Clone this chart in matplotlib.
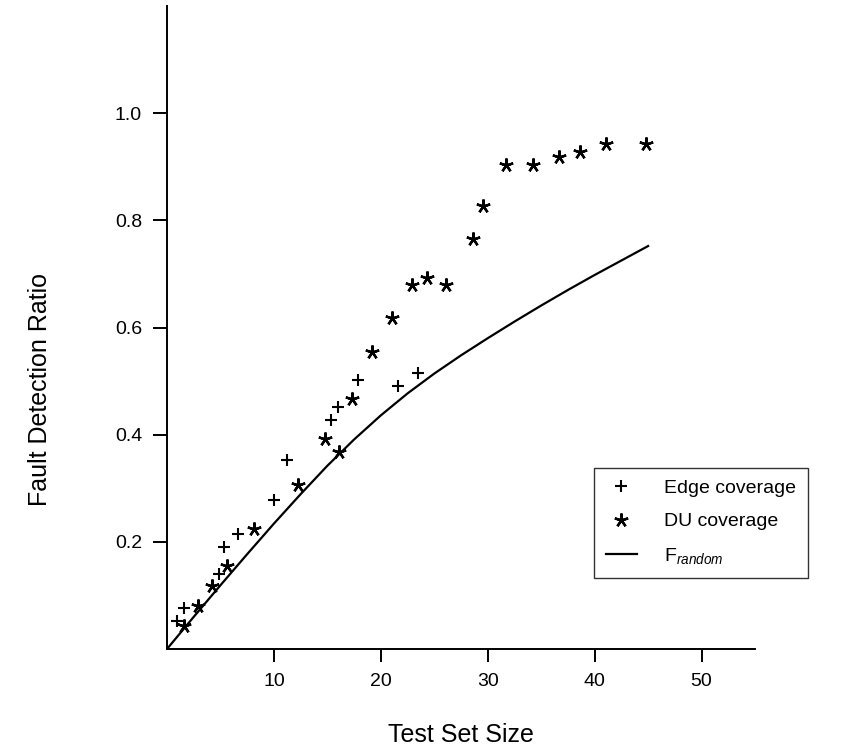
import numpy as np
import matplotlib
matplotlib.use('Agg')
import matplotlib.pyplot as plt
from matplotlib.lines import Line2D

plt.rcParams['font.family'] = ['Liberation Sans', 'DejaVu Sans']
plt.rcParams['mathtext.fontset'] = 'custom'
plt.rcParams['mathtext.rm'] = 'Liberation Sans'
plt.rcParams['mathtext.it'] = 'Liberation Sans:italic'

# data
edge_x = [0.9, 1.6, 4.9, 5.3, 6.6, 10.0, 11.2, 15.3, 16.0, 17.9, 21.6, 23.5]
edge_y = [0.053, 0.076, 0.140, 0.190, 0.214, 0.278, 0.352, 0.428, 0.452, 0.502, 0.490, 0.515]

du_x = [1.6, 2.9, 4.2, 5.6, 8.1, 12.3, 14.8, 16.1, 17.3, 19.2, 21.0, 22.9, 24.3, 26.1,
        28.6, 29.6, 31.7, 34.2, 36.7, 38.6, 41.1, 44.8]
du_y = [0.042, 0.081, 0.117, 0.154, 0.224, 0.306, 0.392, 0.367, 0.467, 0.554, 0.618, 0.679,
        0.693, 0.679, 0.766, 0.827, 0.904, 0.904, 0.919, 0.928, 0.942, 0.942]

rand_x = [0, 2.5, 5, 7.5, 10, 12.5, 15, 17.5, 20, 22.5, 25, 27.5, 30, 32.5, 35, 37.5, 40, 42.5, 45]
rand_y = [0, 0.060, 0.119, 0.177, 0.234, 0.289, 0.342, 0.391, 0.436, 0.477, 0.514, 0.548,
          0.580, 0.611, 0.641, 0.670, 0.698, 0.725, 0.752]

fig = plt.figure(figsize=(8.44, 7.48), dpi=100)
ax = fig.add_axes([167/844, 1-649/748, (755-167)/844, (649-6)/748])

star = (5, 2, 0)
ax.plot(rand_x, rand_y, color='black', lw=1.6)
ax.plot(edge_x, edge_y, linestyle='none', marker='+', ms=9, mew=1.5, color='black')
ax.plot(du_x, du_y, linestyle='none', marker=star, ms=10, mew=1.7, color='black')

ax.set_xlim(0, 55)
ax.set_ylim(0, 1.2)
ax.set_xticks([10, 20, 30, 40, 50])
ax.set_yticks([0.2, 0.4, 0.6, 0.8, 1.0])
ax.set_yticklabels(['0.2', '0.4', '0.6', '0.8', '1.0'])
for s in ['top', 'right']:
    ax.spines[s].set_visible(False)
for s in ['left', 'bottom']:
    ax.spines[s].set_linewidth(1.4)
ax.tick_params(axis='both', direction='out', width=1.4, labelsize=14)
ax.tick_params(axis='y', length=10, pad=8)
ax.tick_params(axis='x', length=9, pad=8)

fig.text(461/844, 1-735/748, 'Test Set Size', ha='center', va='center', fontsize=18)
fig.text(40/844, 1-390/748, 'Fault Detection Ratio', ha='center', va='center',
         rotation=90, fontsize=18)

handles = [Line2D([], [], linestyle='none', marker='+', ms=9, mew=1.5, color='black'),
           Line2D([], [], linestyle='none', marker=star, ms=10, mew=1.7, color='black'),
           Line2D([], [], color='black', lw=1.6)]
labels = ['Edge coverage', 'DU coverage', r'F$_{random}$']
leg = ax.legend(handles, labels, loc='upper left', bbox_to_anchor=(594/844, 1-468/748),
                bbox_transform=fig.transFigure, frameon=True, fancybox=False,
                fontsize=14, handlelength=1.6, handletextpad=1.4, labelspacing=0.8,
                borderpad=0.6, borderaxespad=0)
leg.get_frame().set_edgecolor('black')
leg.get_frame().set_linewidth(1.0)

fig.savefig('out.png', dpi=100)
